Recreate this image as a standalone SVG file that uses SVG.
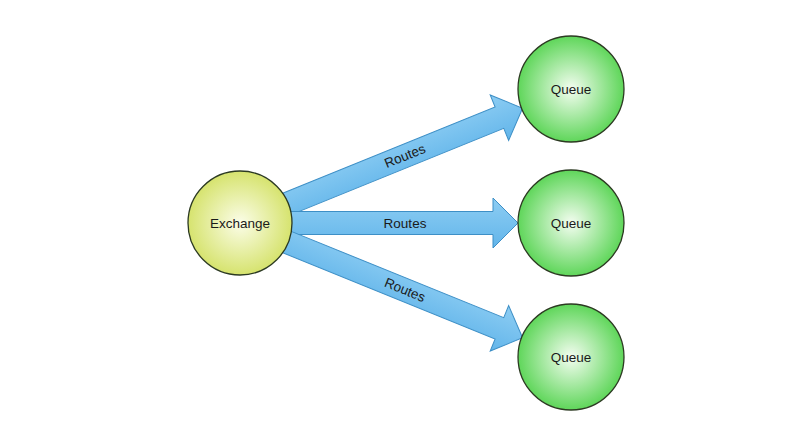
<svg xmlns="http://www.w3.org/2000/svg" width="792" height="446" viewBox="0 0 792 446">
  <defs>
    <radialGradient id="gEx" cx="50%" cy="50%" r="50%">
      <stop offset="0" stop-color="#fbfde8"/>
      <stop offset="1" stop-color="#d6e36e"/>
    </radialGradient>
    <radialGradient id="gQ" cx="50%" cy="50%" r="50%">
      <stop offset="0" stop-color="#f4fdf1"/>
      <stop offset="1" stop-color="#5fd65a"/>
    </radialGradient>
    <linearGradient id="gA" x1="0" y1="0" x2="0" y2="1">
      <stop offset="0" stop-color="#8dcdf3"/>
      <stop offset="1" stop-color="#62b5ea"/>
    </linearGradient>
  </defs>
  <style>
    .arr { fill: url(#gA); stroke: #3d8fc6; stroke-width: 1; }
    .node { stroke: #2c3a22; stroke-width: 1.3; }
    .lbl { font-family: "Liberation Sans", Arial, sans-serif; font-size: 13.5px; fill: #1a1a1a; text-anchor: middle; dominant-baseline: central; }
  </style>
  <rect width="792" height="446" fill="#ffffff"/>
  <g id="connectors">
    <g transform="translate(240,223) rotate(-22.1)">
      <polygon class="arr" points="44,-11.5 280,-11.5 280,-24.5 305,0 280,24.5 280,11.5 44,11.5"/>
      <text class="lbl" x="178" y="0">Routes</text>
    </g>
    <g transform="translate(240,223)">
      <polygon class="arr" points="48,-11.5 253,-11.5 253,-25 278,0 253,25 253,11.5 48,11.5"/>
      <text class="lbl" x="165" y="0">Routes</text>
    </g>
    <g transform="translate(240,223) rotate(22.1)">
      <polygon class="arr" points="44,-11.5 280,-11.5 280,-24.5 305,0 280,24.5 280,11.5 44,11.5"/>
      <text class="lbl" x="178" y="0">Routes</text>
    </g>
  </g>
  <g id="exchange">
    <circle class="node" cx="240" cy="223" r="52" fill="url(#gEx)"/>
    <text class="lbl" x="240" y="223">Exchange</text>
  </g>
  <g id="queue1">
    <circle class="node" cx="571" cy="89" r="53" fill="url(#gQ)"/>
    <text class="lbl" x="571" y="89">Queue</text>
  </g>
  <g id="queue2">
    <circle class="node" cx="571" cy="223" r="53" fill="url(#gQ)"/>
    <text class="lbl" x="571" y="223">Queue</text>
  </g>
  <g id="queue3">
    <circle class="node" cx="571" cy="357" r="53" fill="url(#gQ)"/>
    <text class="lbl" x="571" y="357">Queue</text>
  </g>
</svg>
